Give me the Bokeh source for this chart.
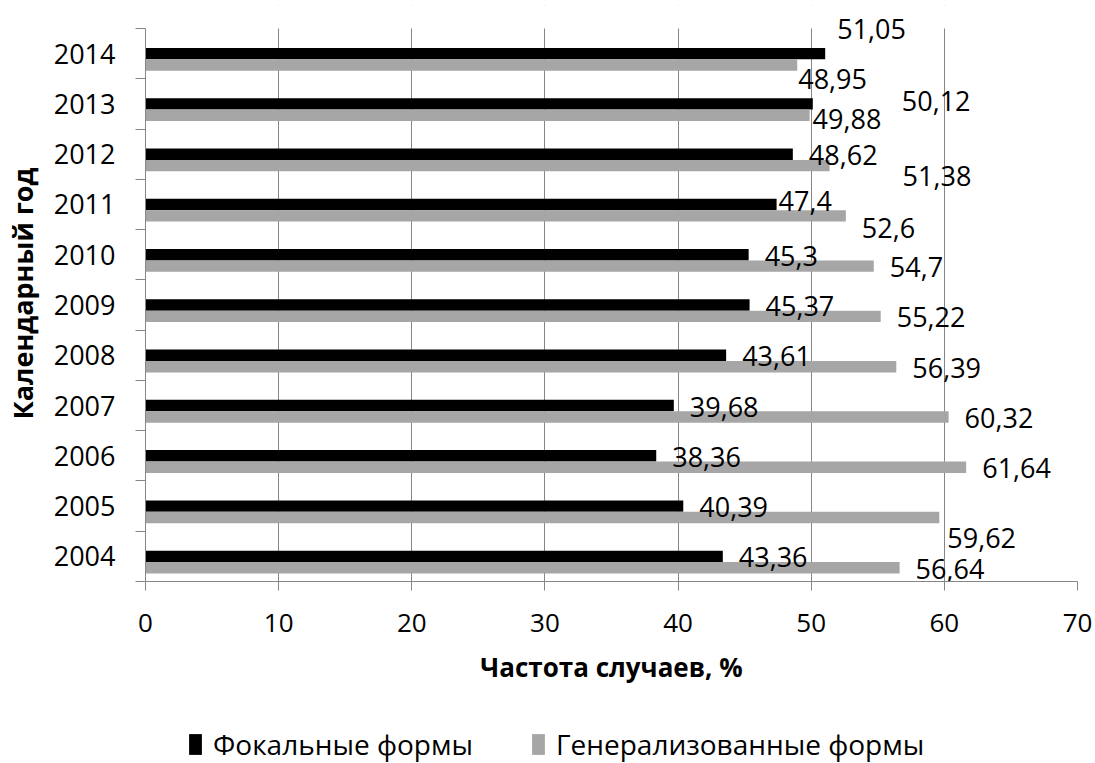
from bokeh.plotting import figure
from bokeh.layouts import column
from bokeh.models import (ColumnDataSource, FixedTicker, Legend, LegendItem, Range1d,
                          BoxAnnotation)
from bokeh.core.properties import value
from bokeh.embed import file_html
from bokeh.resources import INLINE

# ---- data ----
years = ["2004", "2005", "2006", "2007", "2008", "2009", "2010", "2011", "2012", "2013", "2014"]
focal = [43.36, 40.39, 38.36, 39.68, 43.61, 45.37, 45.3, 47.4, 48.62, 50.12, 51.05]
generalized = [56.64, 59.62, 61.64, 60.32, 56.39, 55.22, 54.7, 52.6, 51.38, 49.88, 48.95]
x_ticks = [0, 10, 20, 30, 40, 50, 60, 70]
series_names = ["Фокальные формы", "Генерализованные формы"]

# ---- label nudges (pixels, screen space) for manually moved data labels ----
focal_dx = [0, 0, 0, 0, 0, 0, 0, -14, 0, 73, -4]
focal_dy = [0, 0, 0, 0, 0, 0, 0, -4, 0, -4, -26]
gen_dx = [0, -8, 0, 0, 0, 0, 0, 0, 57, -13, -15]
gen_dy = [0, 19, 0, 0, 0, 0, 0, 11, 9, 3, 13]

FONT = "Open Sans"
GRID = "#868686"
BLACK = "#000000"
GRAY = "#A6A6A6"
BAR_H = 0.227

# layout (pixels)
W = 1095
MAIN_H = 700
LEG_H = 63
TOP_AXIS = 28       # where the category axis starts
FRAME_TOP = 5       # extra headroom for the top data label
FRAME_BOTTOM = 581
FRAME_LEFT = 145
n = len(years)
y_end = n * (FRAME_BOTTOM - FRAME_TOP) / (FRAME_BOTTOM - TOP_AXIS)


def fmt(v):
    return f"{v:g}".replace(".", ",")


centers = [i + 0.5 for i in range(n)]

src_f = ColumnDataSource(dict(
    y=centers, right=focal,
    label=[fmt(v) for v in focal],
    xo=[16 + d for d in focal_dx], yo=[1 + d for d in focal_dy],
))
src_g = ColumnDataSource(dict(
    y=[c - BAR_H for c in centers], right=generalized,
    label=[fmt(v) for v in generalized],
    xo=[16 + d for d in gen_dx], yo=[1 + d for d in gen_dy],
))

p = figure(width=W, height=MAIN_H, output_backend="svg", toolbar_location=None,
           x_range=Range1d(0, 70), y_range=Range1d(0, y_end),
           min_border_left=FRAME_LEFT, min_border_right=18, min_border_top=FRAME_TOP,
           min_border_bottom=MAIN_H - FRAME_BOTTOM)
p.outline_line_color = None
p.background_fill_color = "white"
p.border_fill_color = "white"

# grid
p.ygrid.visible = False
p.xgrid.ticker = FixedTicker(ticks=x_ticks[1:])
p.xgrid.grid_line_color = GRID
p.xgrid.grid_line_width = 1

# hide grid lines above the category area (headroom only holds a label)
p.add_layout(BoxAnnotation(bottom=n, fill_color="white", fill_alpha=1.0,
                           line_color=None, level="underlay"))

r1 = p.hbar(y="y", left=0, right="right", height=BAR_H, source=src_f,
            fill_color=BLACK, line_color=None)
r2 = p.hbar(y="y", left=0, right="right", height=BAR_H, source=src_g,
            fill_color=GRAY, line_color=None)

for src in (src_f, src_g):
    p.text(x="right", y="y", text="label", source=src, x_offset="xo", y_offset="yo",
           text_font=value(FONT), text_font_size="27px", text_color="black",
           text_align="left", text_baseline="middle")

# x axis
xa = p.xaxis[0]
xa.ticker = FixedTicker(ticks=x_ticks)
xa.axis_label = "Частота случаев, %"
xa.axis_line_color = GRID
xa.major_tick_line_color = GRID
xa.major_tick_out = 9
xa.major_tick_in = 0
xa.minor_tick_line_color = None
xa.major_label_text_font = FONT
xa.major_label_text_font_size = "26px"
xa.major_label_text_color = "black"
xa.major_label_standoff = 23
xa.axis_label_text_font = FONT
xa.axis_label_text_font_size = "26px"
xa.axis_label_text_font_style = "bold"
xa.axis_label_text_color = "black"
xa.axis_label_standoff = 14

# y axis
ya = p.yaxis[0]
ya.bounds = (0, n)
ya.ticker = FixedTicker(ticks=centers, minor_ticks=list(range(n + 1)))
ya.major_label_overrides = {c: y for c, y in zip(centers, years)}
ya.axis_label = "Календарный год"
ya.axis_line_color = GRID
ya.major_tick_line_color = None
ya.major_tick_out = 0
ya.major_tick_in = 0
ya.minor_tick_line_color = GRID
ya.minor_tick_out = 10
ya.minor_tick_in = 0
ya.major_label_text_font = FONT
ya.major_label_text_font_size = "27px"
ya.major_label_text_color = "black"
ya.major_label_standoff = 20
ya.axis_label_text_font = FONT
ya.axis_label_text_font_size = "27px"
ya.axis_label_text_font_style = "bold"
ya.axis_label_text_color = "black"
ya.axis_label_standoff = 10

# ---- legend strip below the chart (its frame is aligned with the chart's frame) ----
# ranges chosen so the key renderers' bars fall below/left of the visible strip
lg = figure(width=W, height=LEG_H, output_backend="svg", toolbar_location=None,
            x_range=Range1d(100, 101), y_range=Range1d(1000, 1001),
            x_axis_type=None, y_axis_type=None, min_border=0)
lg.outline_line_color = None
lg.background_fill_color = "white"
lg.border_fill_color = "white"
k1 = lg.hbar(y="y", left=0, right="right", height=0, source=src_f,
             fill_color=BLACK, line_color=None)
k2 = lg.hbar(y="y", left=0, right="right", height=0, source=src_g,
             fill_color=GRAY, line_color=None)

legend = Legend(items=[LegendItem(label=series_names[0], renderers=[k1]),
                       LegendItem(label=series_names[1], renderers=[k2])],
                orientation="horizontal", location=(187 - FRAME_LEFT, 0),
                label_text_font=FONT, label_text_font_size="28px", label_text_color="black",
                glyph_width=16, glyph_height=26, label_standoff=10, spacing=57,
                padding=0, margin=0, border_line_color=None, background_fill_alpha=0)
lg.add_layout(legend, "center")

layout = column(p, lg, spacing=0)
open("out.html", "w").write(file_html(layout, INLINE))
